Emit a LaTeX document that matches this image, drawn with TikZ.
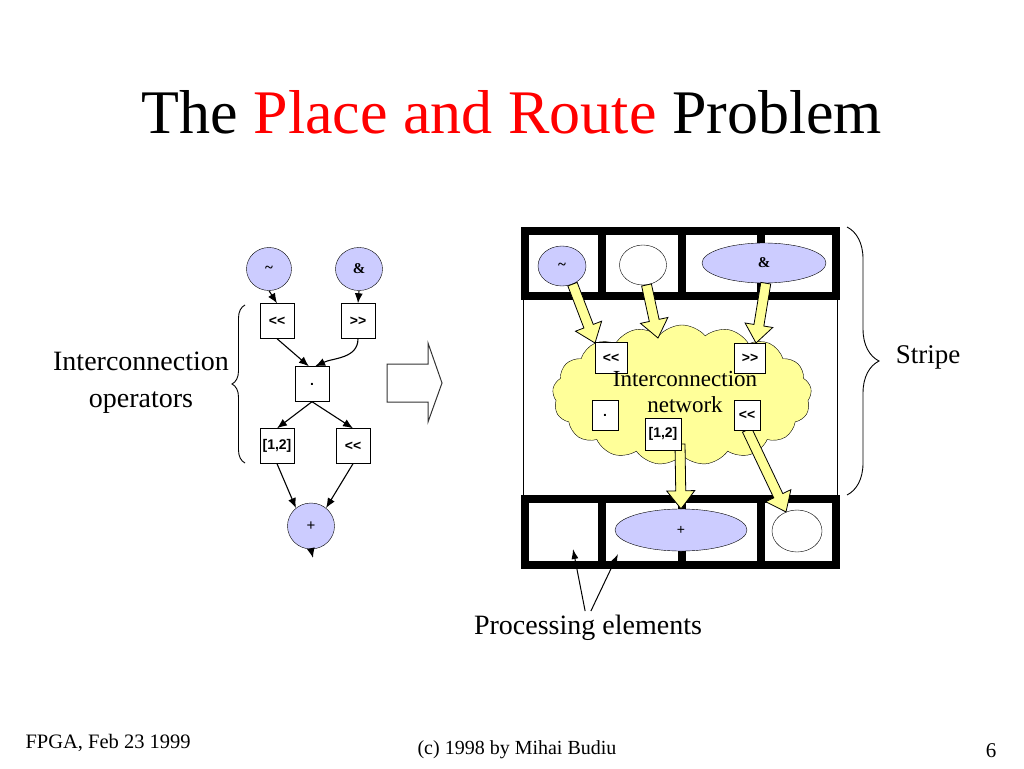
\documentclass[tikz,border=0pt]{standalone}
\usepackage{fontspec}
\setmainfont{Liberation Serif}
\newfontfamily\opsans{Liberation Sans}
\usetikzlibrary{arrows,arrows.meta,shapes,positioning,calc,decorations.pathreplacing}
\usetikzlibrary{shapes.geometric}

\definecolor{opblue}{RGB}{204,204,255}
\definecolor{netyellow}{RGB}{255,255,153}

\newcommand{\opfont}{\opsans\bfseries\fontsize{14}{16}\selectfont}
\newcommand{\valfont}{\bfseries\fontsize{15}{17}\selectfont}
\newcommand{\shl}{<\kern0pt<}
\newcommand{\shr}{>\kern0pt>}
% fat yellow arrow between two points
\newcommand{\fatarrow}[2]{%
  \coordinate (fh) at ($(#2)!18pt!(#1)$);
  \draw[fatarr] ($(#1)!5pt!90:(#2)$) -- ($(fh)!5pt!90:(#2)$) -- ($(fh)!14pt!90:(#2)$) -- (#2)
    -- ($(fh)!14pt!-90:(#2)$) -- ($(fh)!5pt!-90:(#2)$) -- ($(#1)!5pt!-90:(#2)$) -- cycle;}

\begin{document}
\begin{tikzpicture}[x=1pt,y=-1pt,
    op/.style={draw,fill=white,minimum width=34pt,minimum height=35pt,inner sep=0pt,font=\opfont},
    val/.style={ellipse,draw,fill=opblue,inner sep=0pt,font=\valfont},
    pe/.style={ellipse,draw,fill=white,inner sep=0pt},
    wire/.style={-{Latex[length=10pt,width=8pt]},line width=1.1pt},
    strip/.style={line width=8pt},
    fatarr/.style={draw,fill=netyellow,line width=0.8pt,line join=miter}]
\useasboundingbox (0,0) rectangle (1024,768);

% title and footer
\node[anchor=base,font=\fontsize{62}{70}\selectfont] (title) at (512,133)
    {The \textcolor{red}{Place and Route} Problem};
\node[anchor=base west,font=\fontsize{20.5}{24}\selectfont] (date) at (22,748) {FPGA, Feb 23 1999};
\node[anchor=base,font=\fontsize{20}{24}\selectfont] (copy) at (517,754) {(c) 1998 by Mihai Budiu};
\node[anchor=base east,font=\fontsize{21}{24}\selectfont] (page) at (1000,757) {6};

% left: dataflow graph
\node[val,minimum width=45pt,minimum height=43pt] (tilde) at (269,269) {\textasciitilde};
\node[val,minimum width=47pt,minimum height=43pt] (amp) at (359,269) {\&};
\node[op] (shl) at (277,321) {\shl};
\node[op] (shr) at (358,321) {\shr};
\node[op] (dot) at (312,384) {.};
\node[op] (sel) at (277,446) {[1,2]};
\node[op] (shl2) at (353,446) {\shl};
\node[val,minimum width=47pt,minimum height=46pt,font=\opsans\fontsize{15}{17}\selectfont] (plus) at (311,526) {+};
\coordinate (plusout) at (313,558);

\draw[wire] (tilde.south) -- (shl.north);
\draw[wire] (amp.south) -- (shr.north);
\draw[wire] (shl.south) -- (dot.100);
\draw[wire] (shr.south) to[out=-90,in=25] (dot.80);
\draw[wire] (dot.south) -- (sel.north);
\draw[wire] (dot.south) -- (shl2.north);
\draw[wire] (sel.south) -- (plus.130);
\draw[wire] (shl2.south) -- (plus.50);
\draw[wire] (plus.south) -- (plusout);

\draw[decorate,decoration={brace,amplitude=13pt},line width=0.9pt] (245,463) -- (245,305);
\node[align=center,font=\fontsize{28}{37}\selectfont] (ops) at (141,383) {Interconnection\\operators};

% hollow arrow
\draw[line width=1pt,draw=black!80,fill=white] (387,364) -- (428,364) -- (428,343) -- (442,383)
    -- (428,422) -- (428,402) -- (387,402) -- cycle;

% right: stripe with interconnection network
\draw[line width=1pt] (523,298) -- (523,498);
\draw[line width=1pt] (837,298) -- (837,498);
\draw[strip] (525,231) rectangle (836,296);
\draw[strip] (525,499) rectangle (836,565);
\foreach \x in {602,682,761} {
  \draw[strip] (\x,231) -- (\x,296);
  \draw[strip] (\x,499) -- (\x,565);
}

\node[val,minimum width=48pt,minimum height=40pt] (tildeB) at (562,266) {\textasciitilde};
\node[pe,minimum width=47pt,minimum height=40pt] (emptyT) at (643,265) {};
\node[val,minimum width=124pt,minimum height=40pt] (ampB) at (764,263) {\&};
\node[val,minimum width=132pt,minimum height=42pt,font=\opsans\fontsize{14}{16}\selectfont] (plusB) at (681,530) {+};
\node[pe,minimum width=50pt,minimum height=42pt] (emptyB) at (797,531) {};

\node[cloud,cloud puffs=17,cloud puff arc=100,aspect=1.85,draw,fill=netyellow,
    minimum width=259pt,minimum height=140pt,inner sep=0pt] (net) at (682,395) {};

\coordinate (netin) at (658,338);
\coordinate (selout) at (680,444);
\fatarrow{tildeB.-60}{595,343}
\fatarrow{emptyT.-80}{netin}
\fatarrow{ampB.-85}{756,343}
\fatarrow{selout}{plusB.north}
\fatarrow{747,430}{emptyB.120}

\node[op,minimum width=32pt,minimum height=31pt] (shlB) at (611,358) {\shl};
\node[op,minimum width=31pt,minimum height=30pt] (shrB) at (750,358) {\shr};
\node[op,minimum width=26pt,minimum height=30pt] (dotB) at (605,415) {.};
\node[op,minimum width=26pt,minimum height=30pt] (shl2B) at (747,415) {\shl};
\node[op,minimum width=36pt,minimum height=32pt] (selB) at (663,434) {[1,2]};
\node[align=center,font=\fontsize{23}{26}\selectfont,inner sep=0pt] (nettext) at (685,392) {Interconnection\\network};

\draw[decorate,decoration={brace,amplitude=32pt},line width=0.9pt] (847,227) -- (847,495);
\node[font=\fontsize{27}{30}\selectfont] (stripe) at (928,357) {Stripe};

\node[anchor=base,font=\fontsize{28}{32}\selectfont] (proc) at (588,634) {Processing elements};
\coordinate (pe1) at (573,549);
\coordinate (pe2) at (618,554);
\draw[-{Latex[length=10pt,width=7pt]},line width=1pt] (proc.100) -- (pe1);
\draw[-{Latex[length=10pt,width=7pt]},line width=1pt] (proc.80) -- (pe2);
\end{tikzpicture}
\end{document}
